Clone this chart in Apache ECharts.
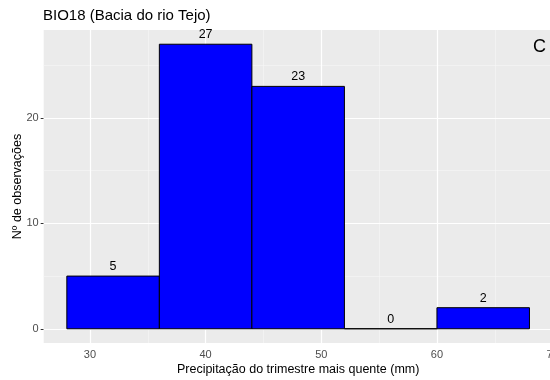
<!DOCTYPE html>
<html>
<head>
<meta charset="utf-8">
<script src="https://cdn.jsdelivr.net/npm/echarts@6/dist/echarts.min.js"></script>
<style>
  html, body { margin: 0; padding: 0; background: #fff; }
  #chart { width: 550px; height: 380px; }
</style>
</head>
<body>
<div id="chart"></div>
<script>
// Histogram bins: left edge, right edge (mm) and count
const binStart = [28, 36, 44, 52, 60];
const binEnd   = [36, 44, 52, 60, 68];
const counts   = [5, 27, 23, 0, 2];

// Axis ticks and grid lines
const xTicks = [30, 40, 50, 60, 70];
const xMinor = [25, 35, 45, 55, 65];
const yTicks = [0, 10, 20];
const yMinor = [5, 15, 25];

const titleText = 'BIO18 (Bacia do rio Tejo)';
const xTitle = 'Precipitação do trimestre mais quente (mm)';
const yTitle = 'Nº de observações';
const panelTag = 'C';

const FONT = '"Liberation Sans", Arial, sans-serif';

const barData = binStart.map((s, i) => [s, binEnd[i], counts[i]]);

function gridLines(vals, axisKey, width, color) {
  return vals.map(v => ({ [axisKey]: v, lineStyle: { width: width, color: color, type: 'solid' } }));
}

const chart = echarts.init(document.getElementById('chart'), null, { renderer: 'canvas' });

chart.setOption({
  animation: false,
  backgroundColor: '#ffffff',
  textStyle: { fontFamily: FONT },
  title: {
    text: titleText,
    left: 43, top: 8, padding: 0,
    textStyle: { fontFamily: FONT, fontSize: 15, fontWeight: 'normal', color: '#000' }
  },
  grid: {
    left: 43.7, top: 30, width: 508.9, height: 313,
    outerBoundsMode: 'none', containLabel: false,
    show: true, backgroundColor: '#EBEBEB', borderWidth: 0
  },
  xAxis: {
    type: 'value', min: 26, max: 70,
    axisLine: { show: false },
    splitLine: { show: false },
    axisTick: { show: true, customValues: xTicks, length: 3, lineStyle: { color: '#333', width: 1 } },
    axisLabel: { customValues: xTicks, color: '#4D4D4D', fontSize: 11, margin: 6, fontFamily: FONT },
    name: xTitle, nameLocation: 'middle', nameGap: 20, nameMoveOverlap: false,
    nameTextStyle: { fontFamily: FONT, fontSize: 12.5, color: '#000' }
  },
  yAxis: {
    type: 'value', min: -1.35, max: 28.35,
    axisLine: { show: false },
    splitLine: { show: false },
    axisTick: { show: true, customValues: yTicks, length: 3, lineStyle: { color: '#333', width: 1 } },
    axisLabel: { customValues: yTicks, color: '#4D4D4D', fontSize: 11, margin: 5, fontFamily: FONT },
    name: yTitle, nameLocation: 'middle', nameGap: 20, nameMoveOverlap: false,
    nameTextStyle: { fontFamily: FONT, fontSize: 12.5, color: '#000' }
  },
  series: [
    {
      // background grid lines
      type: 'line', data: [], silent: true, z: 1,
      markLine: {
        silent: true, symbol: 'none', z: 1, animation: false,
        label: { show: false },
        emphasis: { disabled: true },
        data: [].concat(
          gridLines(xMinor, 'xAxis', 0.6, '#F7F7F7'),
          gridLines(yMinor, 'yAxis', 0.6, '#F7F7F7'),
          gridLines(xTicks, 'xAxis', 1.2, '#FFFFFF'),
          gridLines(yTicks, 'yAxis', 1.2, '#FFFFFF')
        )
      }
    },
    {
      type: 'custom', z: 5, silent: true,
      data: barData,
      encode: { x: [0, 1], y: 2 },
      renderItem: function (params, api) {
        const x0 = api.value(0), x1 = api.value(1), n = api.value(2);
        const pA = api.coord([x0, 0]);
        const pB = api.coord([x1, n]);
        return {
          type: 'group',
          children: [
            {
              type: 'rect',
              shape: { x: pA[0], y: pB[1], width: pB[0] - pA[0], height: pA[1] - pB[1] },
              style: { fill: '#0000FF', stroke: '#000', lineWidth: 1 }
            },
            {
              type: 'text',
              style: {
                text: String(n),
                x: (pA[0] + pB[0]) / 2, y: pB[1] - 3,
                align: 'center', verticalAlign: 'bottom',
                fontFamily: FONT, fontSize: 12.5, fill: '#000'
              }
            }
          ]
        };
      }
    }
  ],
  graphic: [
    {
      type: 'text', right: 4, top: 38, z: 10,
      style: { text: panelTag, fontFamily: FONT, fontSize: 18, fill: '#000' }
    }
  ]
});
</script>
</body>
</html>
